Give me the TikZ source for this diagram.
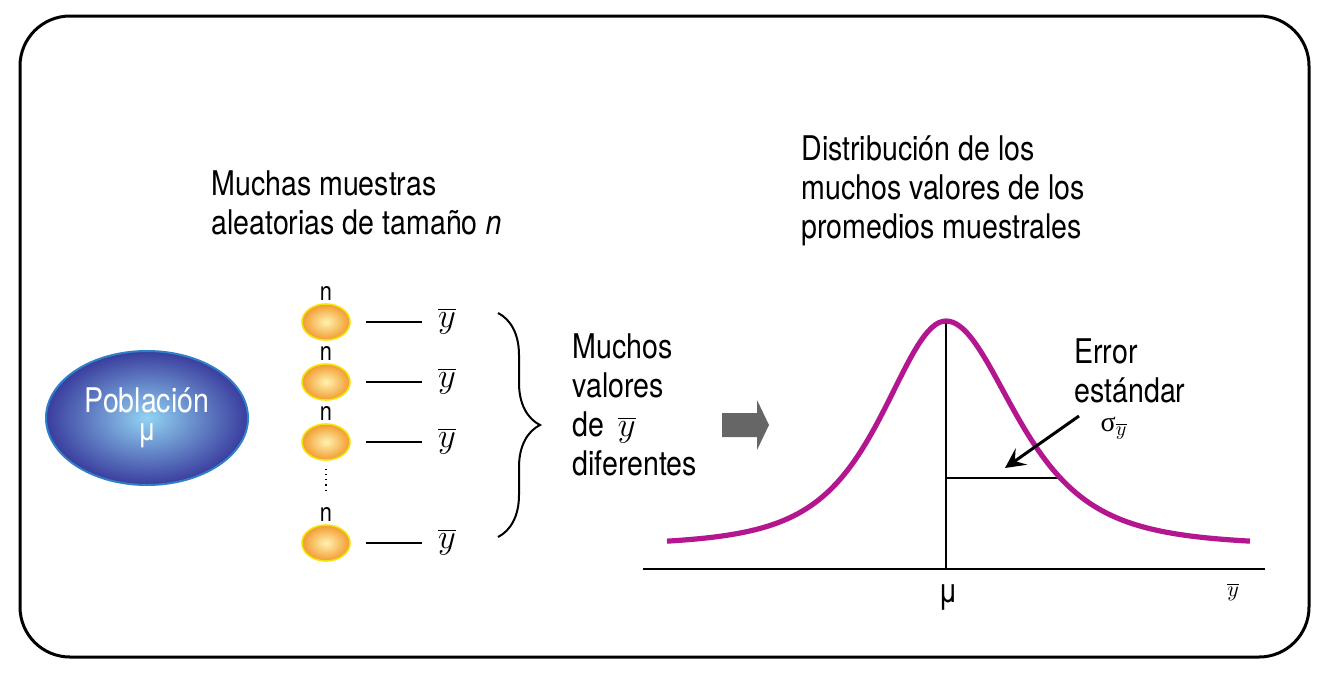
\documentclass[tikz,border=0pt]{standalone}
\usepackage{fontspec}
\setmainfont{TeX Gyre Heros}[FakeStretch=0.84]
\newfontfamily\sigmafont{Liberation Serif}
\usepackage{tikz}
\usetikzlibrary{positioning,arrows.meta,calc,shapes.geometric,decorations.pathreplacing}
\definecolor{EMBlue}{HTML}{3A3D9E}
\definecolor{EMSky}{HTML}{92D3F3}
\definecolor{EMEdge}{HTML}{2F80C8}
\definecolor{EMOrange}{HTML}{F29A2E}
\definecolor{EMCream}{HTML}{FFF3B0}
\definecolor{EMYellow}{HTML}{F4E20C}
\definecolor{EMMagenta}{HTML}{B3168F}
\definecolor{EMGray}{HTML}{666666}

\begin{document}
\begin{tikzpicture}[
  x=0.5pt, y=-0.5pt,
  txt/.style={font=\fontsize{17}{19.5}\selectfont, align=left, inner sep=0pt, anchor=north west},
  pop/.style={ellipse, draw=EMEdge, line width=1pt, inner color=EMSky, outer color=EMBlue, minimum width=101pt, minimum height=67pt, align=center, text=white, font=\fontsize{17}{14}\selectfont},
  sample/.style={ellipse, draw=EMYellow, line width=0.8pt, inner color=EMCream, outer color=EMOrange, minimum width=24pt, minimum height=18pt, inner sep=0pt},
  nlabel/.style={font=\fontsize{13}{15}\selectfont, inner sep=0pt},
  ybar/.style={font=\fontsize{16}{20}\selectfont, inner sep=0pt, anchor=base},
  tie/.style={line width=0.8pt},
  curve/.style={line width=2.6pt, EMMagenta},
  axis/.style={line width=1.2pt},
  arrow/.style={-{Stealth[length=10pt,width=10pt,inset=4pt]}, line width=1.5pt}
]
\useasboundingbox (0,0) rectangle (1334,676);
\draw[line width=1.5pt, rounded corners=25pt] (20,16) rectangle (1309,657);

% left side
\node[pop] (pop) at (147,418) {Población\\{\fontsize{16}{14}\selectfont μ}};
\node[txt] (samples) at (211,170) {Muchas muestras\\aleatorias de tamaño \textit{n}};
\foreach \i/\y in {1/322,2/382,3/442,4/543}{
  \node[sample] (s\i) at (326,\y) {};
  \node[nlabel, above=1pt of s\i] (n\i) {n};
  \node[ybar] (m\i) at (447,\y+5) {$\overline{y}$};
  \draw[tie] ([xshift=7.5pt]s\i.east) -- ([xshift=-8pt]s\i.east -| m\i.west);
}
\draw[dotted, line width=0.6pt, shorten <=4pt, shorten >=7.5pt] (s3) -- (n4);
\coordinate (bt) at (498,313);
\coordinate (bb) at (498,537);
\draw[decorate, decoration={brace, amplitude=21pt}, line width=1pt] (bt) -- (bb);
\node[txt] (many) at (572,333) {Muchos\\valores\\de \,$\overline{y}$\\diferentes};
\fill[EMGray] (722,413) -- (757,413) -- (757,400) -- (769,425) -- (757,450) -- (757,437) -- (722,437) -- cycle;

% right side
\node[txt] (dist) at (801,135) {Distribución de los\\muchos valores de los\\promedios muestrales};
\coordinate (peak) at (946,321);
\coordinate (foot) at (946,569);
\coordinate (axL) at (643,569);
\coordinate (axR) at (1265,569);
\coordinate (sdL) at (946,478);
\coordinate (sdR) at (1061,478);
\draw[axis] (axL) -- (axR);
\draw[axis] (peak) -- (foot);
\draw[axis] (sdL) -- (sdR);
\draw[curve] plot[domain=667:946, samples=80] (\x, {546-225/(1+((\x-946)/100)^2/1.341)^2})
  -- plot[domain=946:1250, samples=90] (\x, {546-225/(1+((\x-946)/100)^2/1.597)^2});
\node[txt] (err) at (1074,338) {Error\\estándar};
\node[font=\fontsize{14}{16}\selectfont, inner sep=0pt] (sig) at (1114,428) {\sigmafont σ$_{\overline{y}}$};
\coordinate (errtail) at (1079,416);
\coordinate (errtip) at (1005,468);
\draw[arrow] (errtail) -- (errtip);
\node[font=\fontsize{17}{20}\selectfont, inner sep=0pt] (mulab) at (948,597) {μ};
\node[font=\fontsize{11}{13}\selectfont, inner sep=0pt] (yax) at (1233,592) {$\overline{y}$};
\end{tikzpicture}
\end{document}
